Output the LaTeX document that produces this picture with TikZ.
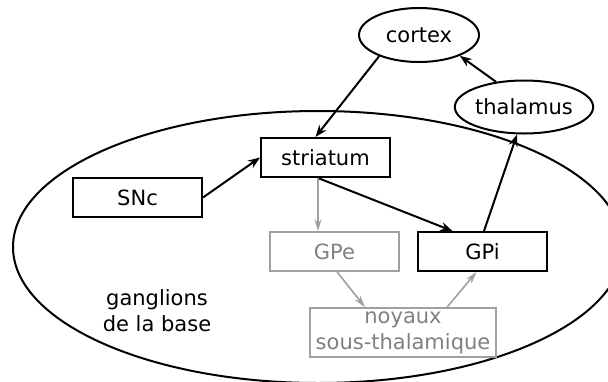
\documentclass[tikz,border=0pt]{standalone}
\usepackage{fontspec}
\setmainfont{DejaVu Sans}
\usetikzlibrary{arrows.meta,shapes.geometric}
\definecolor{lgray}{HTML}{A0A0A0}
\definecolor{tgray}{HTML}{808080}
\tikzset{
  every node/.style={font=\fontsize{21}{26}\selectfont},
  box/.style={draw=black,line width=2pt,rectangle,inner sep=0pt,minimum width=129pt,minimum height=39pt},
  gbox/.style={draw=lgray,line width=1.6pt,rectangle,inner sep=0pt,text=tgray},
  oval/.style={draw=black,line width=2pt,ellipse,inner sep=0pt},
  arr/.style={line width=2pt,-{Stealth[length=12pt,width=9pt,inset=4pt]}},
  garr/.style={line width=1.6pt,draw=lgray,-{Stealth[length=12pt,width=7pt,inset=4pt]}}
}
\begin{document}
\begin{tikzpicture}[x=1pt,y=-1pt]
\useasboundingbox (0,0) rectangle (608,381);
\draw[line width=2pt] (318,247) ellipse [x radius=305, y radius=136];
\node[oval,minimum width=120pt,minimum height=54pt] (cortex) at (419,35) {cortex};
\node[oval,minimum width=121pt,minimum height=53pt] (thalamus) at (524,107) {thalamus};
\node[box] (striatum) at (325.5,157.5) {striatum};
\node[box] (snc) at (137.5,197.5) {SNc};
\node[gbox,minimum width=129pt,minimum height=39pt] (gpe) at (334.5,251.5) {GPe};
\node[box] (gpi) at (482.5,251.5) {GPi};
\node[gbox,minimum width=186pt,minimum height=49pt,align=center] (stn) at (403,332.5) {noyaux\\sous-thalamique};
\node[align=center] (bg) at (157,311) {ganglions\\de la base};
\draw[arr] (cortex.208) -- ([xshift=-10pt]striatum.north);
\draw[arr] (thalamus.138) -- (cortex.333);
\draw[arr] ([xshift=1.5pt]gpi.north) -- ([xshift=-7pt]thalamus.south);
\draw[arr] (snc.east) -- (striatum.west);
\draw[arr] ([xshift=-7.5pt]striatum.south) -- ([xshift=-30pt]gpi.north);
\draw[garr] ([xshift=-7.5pt]striatum.south) -- ([xshift=-7.5pt]striatum.south |- gpe.north);
\draw[garr] ([xshift=2.5pt]gpe.south) -- ([xshift=-38pt]stn.north);
\draw[garr] ([xshift=44pt]stn.north) -- ([xshift=-6pt]gpi.south);
\end{tikzpicture}
\end{document}
